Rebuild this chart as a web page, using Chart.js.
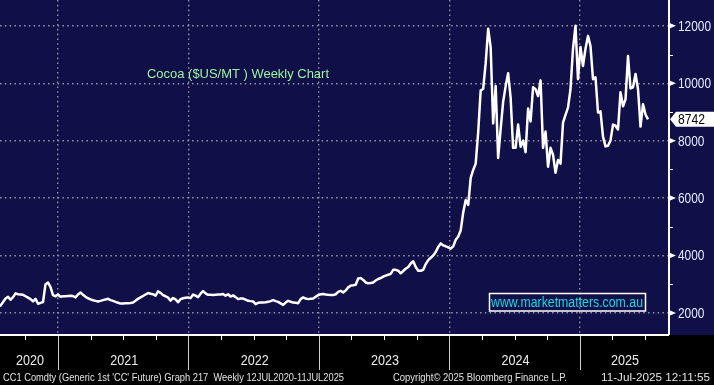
<!DOCTYPE html>
<html>
<head>
<meta charset="utf-8">
<title>Cocoa weekly</title>
<script src="https://cdn.jsdelivr.net/npm/chart.js@4.4.1/dist/chart.umd.min.js"></script>
<style>
  html, body { margin: 0; padding: 0; background: #000; }
  #wrap { width: 714px; height: 385px; }
</style>
</head>
<body>
<div id="wrap"><canvas id="cocoaChart" width="714" height="385"></canvas></div>
<script>
// weekly closes, 12 Jul 2020 .. 11 Jul 2025
const lastDate = '2025-07-11';
const weeklyClose = [
  2150, 2200, 2260, 2380, 2500, 2560, 2460, 2550, 2680, 2650,
  2640, 2630, 2580, 2530, 2480, 2400, 2490, 2320, 2350, 2380,
  3000, 3060, 2900, 2620, 2580, 2640, 2560, 2580, 2580, 2590,
  2600, 2590, 2540, 2640, 2710, 2630, 2560, 2510, 2470, 2440,
  2420, 2400, 2420, 2445, 2470, 2490, 2445, 2420, 2385, 2355,
  2325, 2330, 2340, 2340, 2345, 2360, 2420, 2490, 2540, 2590,
  2640, 2690, 2670, 2650, 2600, 2750, 2700, 2620, 2580, 2530,
  2430, 2520, 2470, 2370, 2480, 2510, 2530, 2540, 2515, 2640,
  2600, 2550, 2670, 2760, 2680, 2630, 2630, 2620, 2630, 2640,
  2640, 2660, 2600, 2650, 2570, 2610, 2550, 2480, 2500, 2500,
  2460, 2420, 2410, 2400, 2305, 2350, 2360, 2360, 2370, 2385,
  2410, 2445, 2410, 2385, 2330, 2280, 2360, 2420, 2390, 2360,
  2350, 2340, 2480, 2540, 2500, 2480, 2490, 2500, 2560, 2620,
  2650, 2655, 2640, 2630, 2625, 2620, 2650, 2735, 2770, 2715,
  2780, 2890, 2950, 2960, 2980, 3200, 3215, 3150, 3060, 3030,
  3040, 3060, 3130, 3180, 3215, 3260, 3300, 3330, 3360, 3500,
  3500, 3470, 3380, 3460, 3540, 3600, 3720, 3800, 3600, 3470,
  3470, 3500, 3700, 3840, 3920, 4000, 4120, 4300, 4420, 4350,
  4320, 4280, 4240, 4320, 4550, 4660, 4880, 5500, 5930, 5760,
  6700, 6980, 7200, 8300, 9750, 9800, 10700, 11900, 11250, 8600,
  9900, 7400, 8400, 9350, 9900, 10350, 9500, 7750, 7750, 8560,
  7790, 8000, 7600, 9120, 8670, 9860, 9790, 9550, 10100, 7750,
  8320, 7090, 7750, 7510, 6880, 7330, 7200, 8630, 8900, 9150,
  9790, 11200, 12000, 10140, 11265, 10600, 11200, 11650, 11300, 10140,
  10210, 8980, 9020, 8140, 7800, 7825, 8000, 8560, 8520, 8390,
  9690, 9200, 9440, 10950, 9820, 9860, 10320, 9790, 8490, 9270,
  8910, 8742
];
const yearLabels = ['2020', '2021', '2022', '2023', '2024', '2025'];
const yearBreaks = [2021, 2022, 2023, 2024, 2025];
const priceTicks = [2000, 4000, 6000, 8000, 10000, 12000];
const minorPriceTicks = [3000, 5000, 7000, 9000, 11000];
const titleText = 'Cocoa ($US/MT ) Weekly Chart';
const watermarkText = 'www.marketmatters.com.au';
const footerLeft = "CC1 Comdty (Generic 1st 'CC' Future) Graph 217  Weekly 12JUL2020-11JUL2025";
const footerMid = 'Copyright\u00A9 2025 Bloomberg Finance L.P.';
const footerRight = '11-Jul-2025 12:11:55';

const NAVY = '#100f47';
const GRID = '#8e8e9e';

function toYear(d) {
  const y = d.getUTCFullYear();
  const s = Date.UTC(y, 0, 1), e = Date.UTC(y + 1, 0, 1);
  return y + (d.getTime() - s) / (e - s);
}

const endMs = Date.parse(lastDate + 'T00:00:00Z');
const points = weeklyClose.map((v, i) => ({
  x: toYear(new Date(endMs - (weeklyClose.length - 1 - i) * 7 * 864e5)),
  y: v
}));

// draw text squeezed/stretched to a given width
function fitText(ctx, text, x, y, w, align) {
  const m = ctx.measureText(text).width;
  ctx.save();
  ctx.translate(x, y);
  ctx.scale(w / m, 1);
  ctx.textAlign = align || 'left';
  ctx.fillText(text, 0, 0);
  ctx.restore();
}

const decorations = {
  id: 'decorations',
  beforeDraw(chart) {
    const ctx = chart.ctx;
    const area = chart.chartArea;
    ctx.save();
    ctx.fillStyle = '#000';
    ctx.fillRect(0, 0, chart.width, chart.height);
    ctx.fillStyle = NAVY;
    ctx.fillRect(0, 0, chart.width, area.bottom + 1);
    ctx.restore();
  },
  afterDraw(chart) {
    const ctx = chart.ctx;
    const area = chart.chartArea;
    const xs = chart.scales.x, ys = chart.scales.y;
    ctx.save();

    // axis lines
    ctx.strokeStyle = '#fff';
    ctx.lineWidth = 2;
    ctx.beginPath();
    ctx.moveTo(0, area.bottom + 1);
    ctx.lineTo(area.right + 1, area.bottom + 1);
    ctx.moveTo(area.right + 1, 0);
    ctx.lineTo(area.right + 1, area.bottom + 1);
    ctx.stroke();

    // right axis: arrows at labelled ticks, short minor ticks
    ctx.fillStyle = '#fff';
    priceTicks.forEach(v => {
      const y = ys.getPixelForValue(v);
      ctx.beginPath();
      ctx.moveTo(area.right + 1, y - 3);
      ctx.lineTo(area.right + 8, y);
      ctx.lineTo(area.right + 1, y + 3);
      ctx.closePath();
      ctx.fill();
    });
    ctx.lineWidth = 1;
    minorPriceTicks.forEach(v => {
      const y = Math.round(ys.getPixelForValue(v)) + 0.5;
      ctx.beginPath();
      ctx.moveTo(area.right + 1, y);
      ctx.lineTo(area.right + 5, y);
      ctx.stroke();
    });
    ctx.fillStyle = '#e4e9ff';
    ctx.font = '14px "Liberation Sans", Arial, sans-serif';
    ctx.textBaseline = 'middle';
    priceTicks.forEach(v => {
      const label = String(v);
      fitText(ctx, label, area.right + 10, ys.getPixelForValue(v) + 1, label.length * 6.6, 'left');
    });

    // last value tag
    const last = weeklyClose[weeklyClose.length - 1];
    const ly = ys.getPixelForValue(last);
    ctx.fillStyle = '#fff';
    ctx.beginPath();
    ctx.moveTo(area.right + 2, ly);
    ctx.lineTo(area.right + 8, ly - 7.5);
    ctx.lineTo(chart.width, ly - 7.5);
    ctx.lineTo(chart.width, ly + 7.5);
    ctx.lineTo(area.right + 8, ly + 7.5);
    ctx.closePath();
    ctx.fill();
    ctx.fillStyle = '#000';
    ctx.font = '14px "Liberation Sans", Arial, sans-serif';
    fitText(ctx, String(last), area.right + 10, ly + 1, 27, 'left');

    // bottom axis: quarterly ticks, year separators, year labels
    ctx.strokeStyle = '#fff';
    ctx.lineWidth = 1;
    for (let yr = 2020; yr <= 2025; yr++) {
      for (let q = 0; q < 4; q++) {
        const t = yr + q * 0.25;
        if (t <= xs.min || t >= xs.max) continue;
        const x = Math.round(xs.getPixelForValue(t)) + 0.5;
        ctx.beginPath();
        ctx.moveTo(x, area.bottom + 1);
        ctx.lineTo(x, area.bottom + 6);
        ctx.stroke();
      }
    }
    ctx.strokeStyle = '#cfcfcf';
    yearBreaks.forEach(t => {
      const x = Math.round(xs.getPixelForValue(t)) + 0.5;
      ctx.beginPath();
      ctx.moveTo(x, area.bottom + 2);
      ctx.lineTo(x, 370);
      ctx.stroke();
    });
    ctx.fillStyle = '#ececec';
    ctx.font = '15px "Liberation Sans", Arial, sans-serif';
    ctx.textBaseline = 'middle';
    const edges = [xs.min].concat(yearBreaks, [xs.max]);
    yearLabels.forEach((lab, i) => {
      const a = Math.max(0, xs.getPixelForValue(edges[i]));
      const b = xs.getPixelForValue(edges[i + 1]);
      fitText(ctx, lab, (a + b) / 2 + 1, 361, 28, 'center');
    });

    // footer
    ctx.fillStyle = '#e2e2e2';
    ctx.font = '11px "Liberation Sans", Arial, sans-serif';
    fitText(ctx, footerLeft, 3, 378, 341, 'left');
    fitText(ctx, footerMid, 393, 378, 174, 'left');
    fitText(ctx, footerRight, 601, 378, 109, 'left');

    // title
    ctx.fillStyle = '#9ef59e';
    ctx.font = '13px "Liberation Sans", Arial, sans-serif';
    fitText(ctx, titleText, 147, 74, 182, 'left');

    // watermark box
    ctx.strokeStyle = '#fff';
    ctx.lineWidth = 1.5;
    ctx.strokeRect(489.5, 293.5, 156, 17.5);
    ctx.fillStyle = '#14dbe6';
    ctx.font = '14px "Liberation Sans", Arial, sans-serif';
    fitText(ctx, watermarkText, 491, 303, 152, 'left');

    ctx.restore();
  }
};

new Chart(document.getElementById('cocoaChart'), {
  type: 'line',
  data: {
    datasets: [{
      data: points,
      borderColor: '#ffffff',
      borderWidth: 2.5,
      borderJoinStyle: 'round',
      pointRadius: 0,
      tension: 0,
      fill: false
    }]
  },
  options: {
    responsive: false,
    animation: false,
    devicePixelRatio: 1,
    layout: { padding: 0 },
    plugins: { legend: { display: false }, tooltip: { enabled: false } },
    scales: {
      x: {
        type: 'linear',
        min: 2020.5555,
        max: 2025.6764,
        afterBuildTicks: s => { s.ticks = yearBreaks.map(v => ({ value: v })); },
        afterFit: s => { s.height = 51; },
        ticks: { display: false },
        grid: { color: GRID, lineWidth: 1.4, drawTicks: false },
        border: { display: false, dash: [1.6, 3.2] }
      },
      y: {
        position: 'right',
        min: 1265,
        max: 12900,
        afterBuildTicks: s => { s.ticks = priceTicks.map(v => ({ value: v })); },
        afterFit: s => { s.width = 46; },
        ticks: { display: false },
        grid: { color: GRID, lineWidth: 1.4, drawTicks: false },
        border: { display: false, dash: [1.6, 3.2] }
      }
    }
  },
  plugins: [decorations]
});
</script>
</body>
</html>
